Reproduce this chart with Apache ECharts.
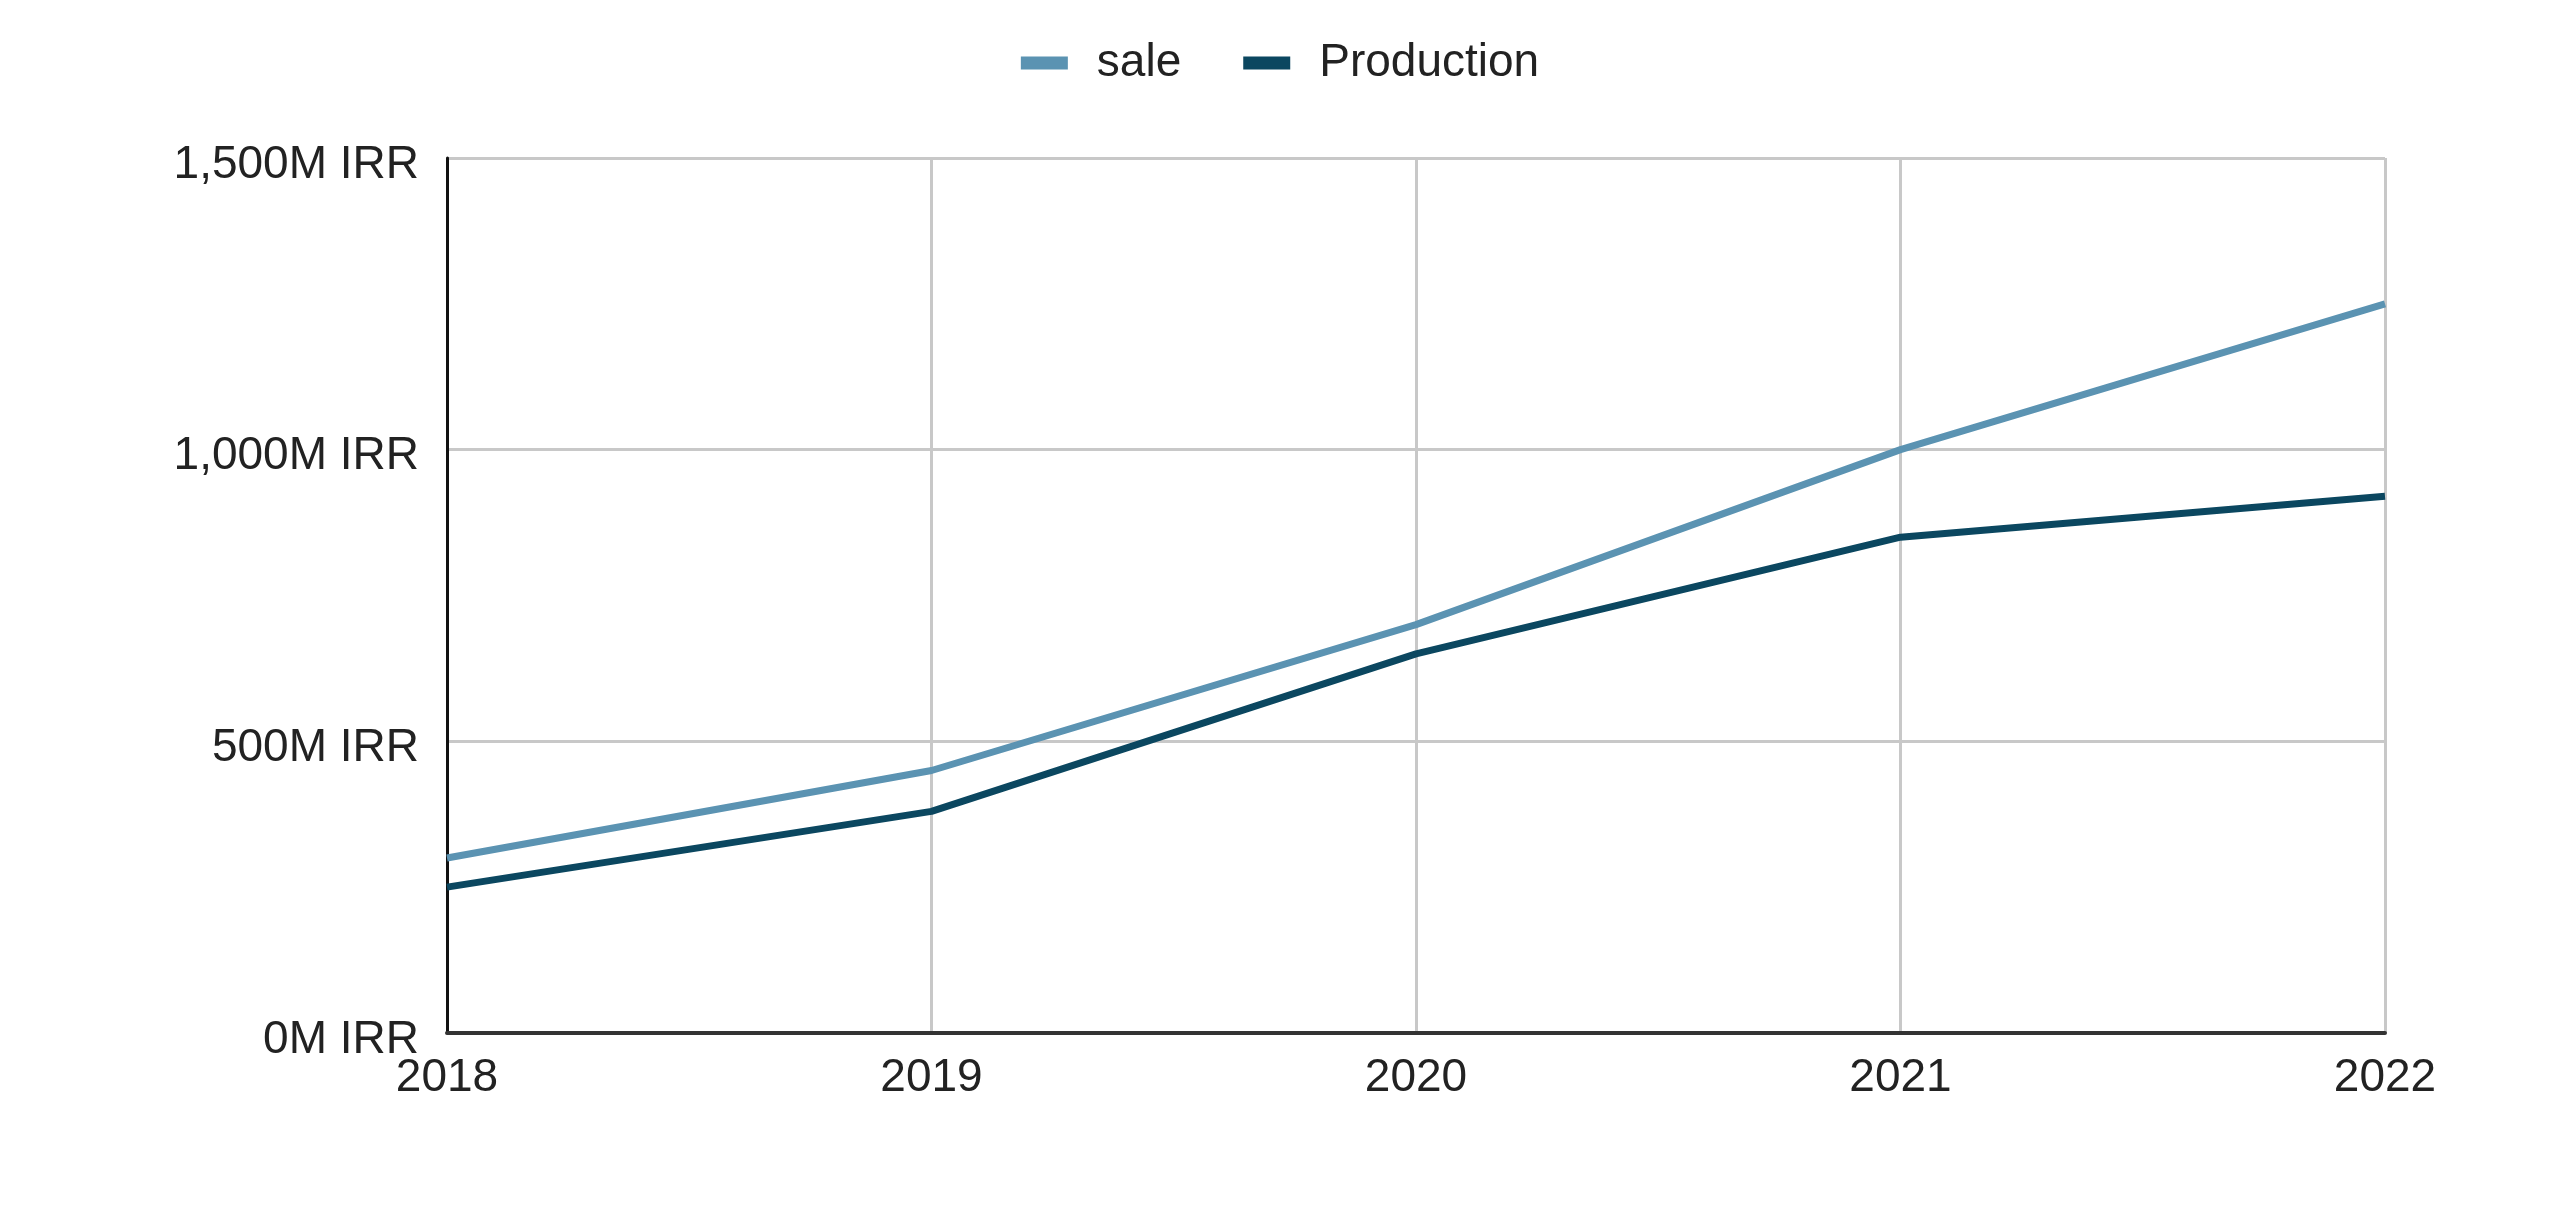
<!DOCTYPE html>
<html>
<head>
<meta charset="utf-8">
<title>sale and Production</title>
<script src="https://cdn.jsdelivr.net/npm/echarts@6/dist/echarts.min.js"></script>
<style>
  html, body { margin: 0; padding: 0; background: #fff; }
  #chart { width: 2560px; height: 1226px; }
</style>
</head>
<body>
<div id="chart"></div>
<script>
var years = ['2018', '2019', '2020', '2021', '2022'];
var sale = [300, 450, 700, 1000, 1250];
var production = [250, 380, 650, 850, 920];
var yTicks = { min: 0, max: 1500, interval: 500 };

var colors = ['#5b93b2', '#0b4760'];
var font = '"Liberation Sans", Arial, sans-serif';

var myChart = echarts.init(document.getElementById('chart'), null, { renderer: 'canvas' });

var option = {
  backgroundColor: '#ffffff',
  color: colors,
  textStyle: { fontFamily: font },
  legend: {
    top: 35,
    left: 'center',
    icon: 'rect',
    itemWidth: 47,
    itemHeight: 13,
    itemGap: 62,
    textStyle: {
      fontFamily: font,
      fontSize: 46,
      color: '#222222',
      padding: [0, 0, 0, 24]
    },
    data: ['sale', 'Production']
  },
  grid: {
    left: 447,
    right: 175,
    top: 158,
    bottom: 193,
    containLabel: false
  },
  xAxis: {
    type: 'category',
    data: years,
    boundaryGap: false,
    axisLine: { lineStyle: { color: '#333333', width: 4 } },
    axisTick: { show: false },
    axisLabel: {
      fontFamily: font,
      fontSize: 46,
      color: '#222222',
      margin: 22
    },
    splitLine: { show: true, lineStyle: { color: '#c8c8c8', width: 3 } }
  },
  yAxis: {
    type: 'value',
    min: yTicks.min,
    max: yTicks.max,
    interval: yTicks.interval,
    axisLine: { show: true, lineStyle: { color: '#111111', width: 3 } },
    axisTick: { show: false },
    axisLabel: {
      margin: 28,
      formatter: function (v) {
        return '{v|' + v.toLocaleString('en-US') + 'M IRR}';
      },
      rich: {
        v: {
          fontFamily: font,
          fontSize: 46,
          color: '#222222',
          padding: [14, 0, 0, 0]
        }
      }
    },
    splitLine: { show: true, lineStyle: { color: '#c8c8c8', width: 3 } }
  },
  series: [
    {
      name: 'sale',
      type: 'line',
      data: sale,
      showSymbol: false,
      symbol: 'none',
      lineStyle: { width: 7, color: colors[0] },
      z: 3
    },
    {
      name: 'Production',
      type: 'line',
      data: production,
      showSymbol: false,
      symbol: 'none',
      lineStyle: { width: 7, color: colors[1] },
      z: 3
    }
  ]
};

myChart.setOption(option);
window.addEventListener('resize', myChart.resize);
</script>
</body>
</html>
